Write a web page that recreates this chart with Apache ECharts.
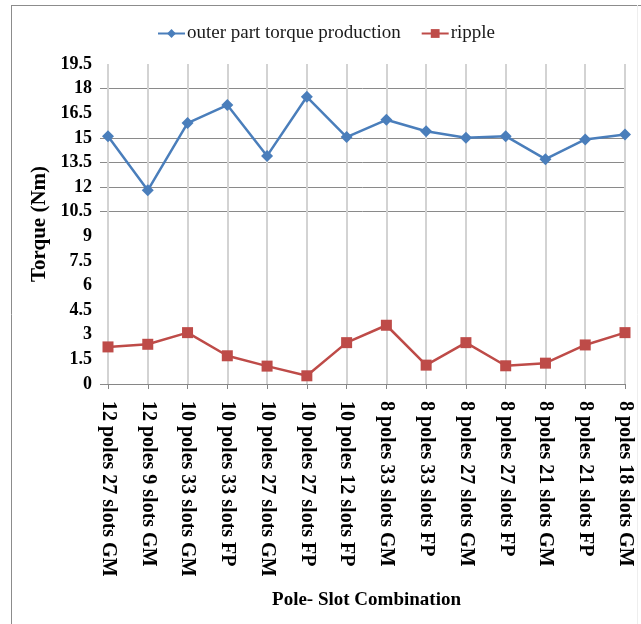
<!DOCTYPE html>
<html><head><meta charset="utf-8">
<script src="https://cdn.jsdelivr.net/npm/echarts@6/dist/echarts.min.js"></script>
<style>html,body{margin:0;padding:0;background:#fff}#c{width:641px;height:624px}</style>
</head><body><div id="c"></div>
<script>
const categories = ["12 poles 27 slots GM","12 poles 9 slots GM","10 poles 33 slots GM","10 poles 33 slots FP","10 poles 27 slots GM","10 poles 27 slots FP","10 poles 12 slots FP","8 poles 33 slots GM","8 poles 33 slots FP","8 poles 27 slots GM","8 poles 27 slots FP","8 poles 21 slots GM","8 poles 21 slots FP","8 poles 18 slots GM"];
const torque = [15.1, 11.8, 15.9, 17.0, 13.9, 17.5, 15.05, 16.1, 15.4, 15.0, 15.1, 13.7, 14.9, 15.2];
const ripple = [2.26, 2.42, 3.13, 1.72, 1.09, 0.5, 2.52, 3.58, 1.15, 2.52, 1.11, 1.27, 2.38, 3.13];
const seriesNames = ["outer part torque production", "ripple"];
const yTicks = [0,1.5,3,4.5,6,7.5,9,10.5,12,13.5,15,16.5,18,19.5];
const visibleGrid = [0,10.5,12,13.5,15,18];

const font = '"Liberation Serif","Times New Roman",serif';
const gridColors = yTicks.map(v => visibleGrid.indexOf(v) >= 0 ? '#8a8a8a' : 'rgba(0,0,0,0)');
const chart = echarts.init(document.getElementById('c'));
chart.setOption({
  animation: false,
  backgroundColor: '#fff',
  graphic: [
    { type: 'line', shape: { x1: 11, y1: 5.5, x2: 641, y2: 5.5 }, style: { stroke: '#8c8c8c', lineWidth: 1 }, silent: true },
    { type: 'line', shape: { x1: 11.5, y1: 5, x2: 11.5, y2: 624 }, style: { stroke: '#8c8c8c', lineWidth: 1 }, silent: true },
    { type: 'line', shape: { x1: 637.5, y1: 5, x2: 637.5, y2: 624 }, style: { stroke: '#eeeeee', lineWidth: 1 }, silent: true }
  ],
  legend: {
    top: 19, left: 152, itemGap: 20, itemWidth: 27, itemHeight: 11,
    textStyle: { fontFamily: font, fontSize: 19, color: '#1a1a1a', padding: [0, 0, 0, -3] },
    data: seriesNames
  },
  grid: [
    { left: 108, right: 16, top: 64, bottom: 240, containLabel: false },
    { left: 100, right: 16, top: 64, bottom: 240, containLabel: false }
  ],
  xAxis: [{
    type: 'category', data: categories, boundaryGap: false, gridIndex: 0,
    axisLine: { lineStyle: { color: '#868686', width: 1 } },
    axisTick: { show: true, length: 5, lineStyle: { color: '#868686' } },
    axisLabel: { rotate: -90, margin: 17, fontFamily: font, fontWeight: 'bold', fontSize: 20, color: '#000' },
    splitLine: { show: true, lineStyle: { color: '#d3d3d3', width: 2 } },
    name: 'Pole- Slot Combination', nameLocation: 'middle', nameGap: 207,
    nameTextStyle: { fontFamily: font, fontWeight: 'bold', fontSize: 19, color: '#000' }
  }, {
    type: 'value', gridIndex: 1, show: false, min: 0, max: 1
  }],
  yAxis: [{
    type: 'value', min: 0, max: 19.5, interval: 1.5, gridIndex: 0,
    axisLine: { show: false },
    axisTick: { show: false },
    axisLabel: { margin: 16, fontFamily: font, fontWeight: 'bold', fontSize: 18, color: '#000' },
    splitLine: { show: false },
    name: 'Torque (Nm)', nameLocation: 'middle', nameGap: 55, nameRotate: 90,
    nameTextStyle: { fontFamily: font, fontWeight: 'bold', fontSize: 21, color: '#000' }
  }, {
    type: 'value', min: 0, max: 19.5, interval: 1.5, gridIndex: 1, z: 0,
    axisLine: { show: false }, axisTick: { show: false }, axisLabel: { show: false },
    splitLine: { show: true, showMinLine: true, showMaxLine: true, lineStyle: { color: gridColors, width: 1 } }
  }],
  series: [
    { name: seriesNames[0], type: 'line', data: torque, symbol: 'diamond', symbolSize: 12,
      itemStyle: { color: '#4a7ebb' }, lineStyle: { color: '#4a7ebb', width: 2.5 }, z: 3 },
    { name: seriesNames[1], type: 'line', data: ripple, symbol: 'rect', symbolSize: 11,
      itemStyle: { color: '#be4b48' }, lineStyle: { color: '#be4b48', width: 2.5 }, z: 3 }
  ]
});
</script></body></html>
